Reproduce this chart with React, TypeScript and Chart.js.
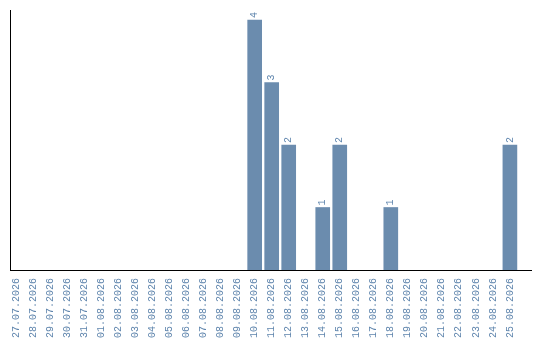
import React, { useEffect, useRef } from "react";
import { Chart, registerables } from "chart.js";

Chart.register(...registerables);

// Daily counts, one entry per day
const dates: string[] = [
  "27.07.2026", "28.07.2026", "29.07.2026", "30.07.2026", "31.07.2026",
  "01.08.2026", "02.08.2026", "03.08.2026", "04.08.2026", "05.08.2026",
  "06.08.2026", "07.08.2026", "08.08.2026", "09.08.2026", "10.08.2026",
  "11.08.2026", "12.08.2026", "13.08.2026", "14.08.2026", "15.08.2026",
  "16.08.2026", "17.08.2026", "18.08.2026", "19.08.2026", "20.08.2026",
  "21.08.2026", "22.08.2026", "23.08.2026", "24.08.2026", "25.08.2026",
];
const counts: number[] = [
  0, 0, 0, 0, 0,
  0, 0, 0, 0, 0,
  0, 0, 0, 0, 4,
  3, 2, 0, 1, 2,
  0, 0, 1, 0, 0,
  0, 0, 0, 0, 2,
];

const BAR_COLOR = "#6b8cae";
const TEXT_COLOR = "#5f85ad";
const FONT_FAMILY = "'Liberation Mono', monospace";

// Writes each non-zero value vertically just above its bar
const valueLabels = {
  id: "valueLabels",
  afterDatasetsDraw(chart: any) {
    const { ctx } = chart;
    const meta = chart.getDatasetMeta(0);
    ctx.save();
    ctx.fillStyle = TEXT_COLOR;
    ctx.font = `10px ${FONT_FAMILY}`;
    ctx.textAlign = "left";
    ctx.textBaseline = "middle";
    meta.data.forEach((bar: any, i: number) => {
      const v = counts[i];
      if (!v) return;
      ctx.save();
      ctx.translate(bar.x, bar.y - 2);
      ctx.rotate(-Math.PI / 2);
      ctx.fillText(String(v), 0, 0);
      ctx.restore();
    });
    ctx.restore();
  },
};

export default function App() {
  const ref = useRef<HTMLCanvasElement>(null);

  useEffect(() => {
    document.body.style.margin = "0";
    const chart = new Chart(ref.current!, {
      type: "bar",
      data: {
        datasets: [
          {
            data: counts.map((v, i) => ({ x: i, y: v > 0 ? v : null })),
            backgroundColor: BAR_COLOR,
            borderWidth: 0,
            barThickness: 14,
          },
        ],
      },
      options: {
        animation: false,
        responsive: false,
        maintainAspectRatio: false,
        layout: { padding: { top: 10, left: 10, right: 9, bottom: 0 } },
        plugins: { legend: { display: false }, tooltip: { enabled: false } },
        scales: {
          x: {
            type: "linear",
            offset: false,
            min: -0.38,
            max: 30.24,
            afterBuildTicks(scale: any) {
              scale.ticks = dates.map((_, i) => ({ value: i }));
            },
            afterFit(scale: any) {
              scale.height = 70;
              scale.paddingLeft = 0;
              scale.paddingRight = 0;
            },
            grid: { display: false, drawTicks: false },
            border: { display: true, color: "#000", width: 1 },
            ticks: {
              autoSkip: false,
              minRotation: 90,
              maxRotation: 90,
              padding: 8,
              color: TEXT_COLOR,
              font: { family: FONT_FAMILY, size: 10 },
              callback: (value: any) => dates[value] ?? "",
            },
          },
          y: {
            min: 0,
            max: 4.16,
            grid: { display: false, drawTicks: false },
            border: { display: true, color: "#000", width: 1 },
            ticks: { display: false },
          },
        },
      },
      plugins: [valueLabels],
    });
    return () => chart.destroy();
  }, []);

  return (
    <div style={{ position: "fixed", left: 0, top: 0, width: 540, height: 340 }}>
      <canvas ref={ref} width={540} height={340} />
    </div>
  );
}
